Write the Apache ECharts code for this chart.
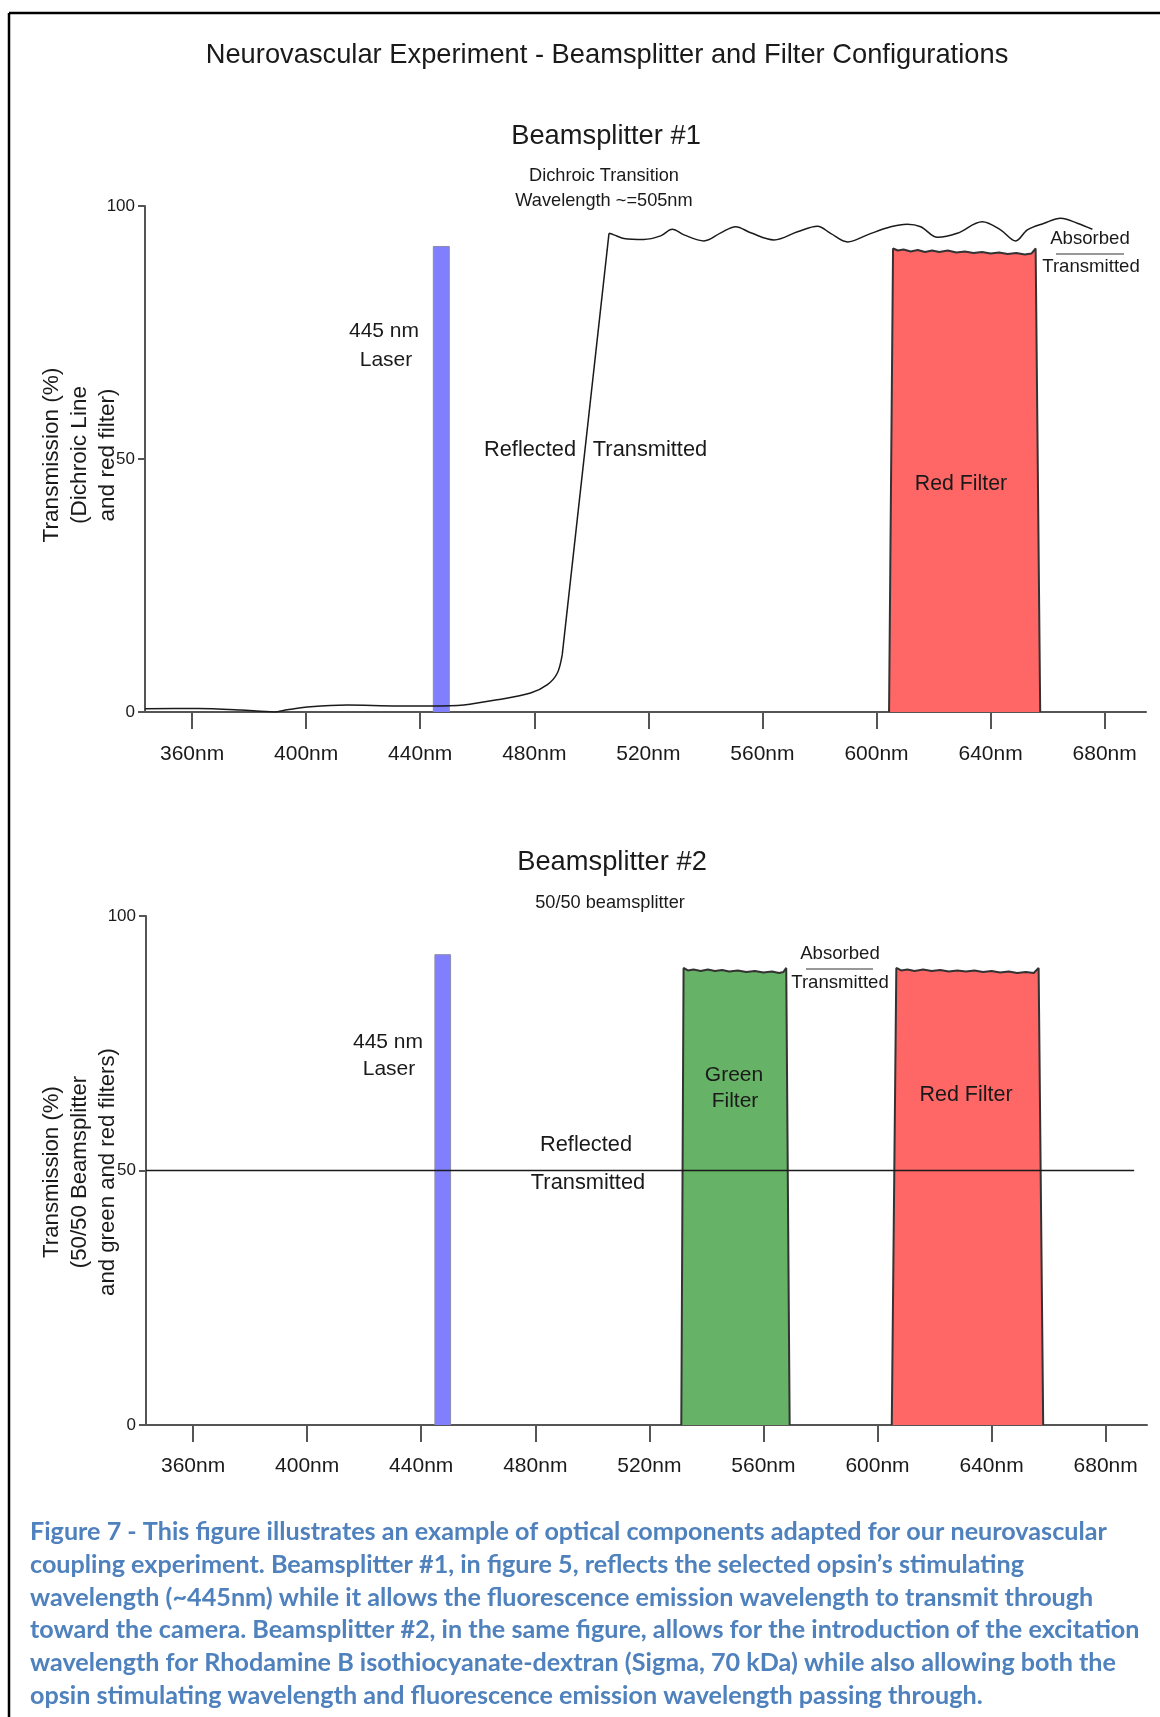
<!DOCTYPE html>
<html>
<head>
<meta charset="utf-8">
<script src="https://cdn.jsdelivr.net/npm/echarts@6/dist/echarts.min.js"></script>
<style>
  html, body { margin: 0; padding: 0; background: #ffffff; }
  #chart { width: 1160px; height: 1717px; }
</style>
</head>
<body>
<div id="chart"></div>
<script>
// ---------- DATA ----------
const xTickValues = [360, 400, 440, 480, 520, 560, 600, 640, 680];
const xTickLabels = ['360nm', '400nm', '440nm', '480nm', '520nm', '560nm', '600nm', '640nm', '680nm'];
const yTickValues = [0, 50, 100];

// Beamsplitter #1
const laser1 = [[444.6, 0], [444.6, 92.0], [450.2, 92.0], [450.2, 0]];
const dichroicLow = [[343.5, 0.65], [362, 0.7], [377, 0.4], [388.7, 0.0], [393.4, 0.45], [401.6, 1.05],
  [414.5, 1.37], [432, 1.2], [443.7, 1.2], [455.3, 1.4], [467, 2.4], [478.7, 3.75], [484.6, 5.4],
  [488.1, 7.7], [489.8, 11.3]];
const dichroicRise = [[489.8, 11.3], [506.2, 94.6]];
const dichroicTop = [[506.2, 94.6], [507.9, 94.3], [511.4, 93.6], [518.4, 93.4], [524.3, 94.1], [528.4, 95.4],
  [532.5, 94.3], [539.5, 93.1], [545.4, 94.7], [550.6, 95.9], [555.9, 94.7], [564.1, 93.3], [572.3, 94.9],
  [579.3, 96.0], [583.9, 94.6], [589.9, 92.9], [596.8, 94.3], [605, 95.9], [610.8, 96.4], [615.5, 95.9],
  [621.4, 93.8], [628.3, 94.6], [637.1, 96.9], [643.5, 95.3], [648.8, 93.1], [652.9, 95.3], [658.8, 96.6],
  [664.6, 97.6], [670.4, 96.6], [675.7, 95.4]];
const redFilter1 = [[604.4, 0], [605.8, 91.6], [607.5, 91.2], [609.5, 91.4], [612, 91.0], [614.5, 91.3],
  [617, 90.9], [619.5, 91.2], [622, 90.9], [625, 91.2], [628, 90.8], [631, 91.0], [634, 90.7], [637, 90.9],
  [640, 90.6], [643, 90.8], [646, 90.5], [649, 90.7], [652, 90.4], [654.3, 90.6], [655.8, 91.6], [657.4, 0]];

// Beamsplitter #2
const laser2 = [[444.8, 0], [444.8, 92.4], [450.3, 92.4], [450.3, 0]];
const greenFilter2 = [[531.2, 0], [532.0, 89.8], [533.5, 89.3], [535.5, 89.5], [538, 89.2], [540.5, 89.5],
  [543, 89.2], [545.5, 89.4], [548, 89.1], [551, 89.3], [554, 89.0], [557, 89.2], [560, 88.9], [563, 89.1],
  [565.5, 88.8], [567, 89.0], [568.0, 89.8], [569.2, 0]];
const redFilter2 = [[605.0, 0], [606.6, 89.8], [608.3, 89.3], [610.5, 89.5], [613, 89.2], [616, 89.5],
  [619, 89.2], [622, 89.4], [625, 89.1], [628, 89.3], [631, 89.1], [634, 89.3], [637, 89.0], [640, 89.2],
  [643, 88.9], [646, 89.1], [649, 88.8], [652, 89.0], [654.8, 88.8], [656.5, 89.8], [658.1, 0]];
const splitLine2 = [[343.5, 50], [690, 50]];

const captionLines = [
  'Figure 7 - This figure illustrates an example of optical components adapted for our neurovascular',
  'coupling experiment. Beamsplitter #1, in figure 5, reflects the selected opsin\u2019s stimulating',
  'wavelength (~445nm) while it allows the fluorescence emission wavelength to transmit through',
  'toward the camera. Beamsplitter #2, in the same figure, allows for the introduction of the excitation',
  'wavelength for Rhodamine B isothiocyanate-dextran (Sigma, 70 kDa) while also allowing both the',
  'opsin stimulating wavelength and fluorescence emission wavelength passing through.'
];

// ---------- STYLE ----------
const FF = '"Liberation Sans", Arial, sans-serif';
const CAP_FF = 'Lato, "Open Sans", sans-serif';
const AXC = '#555';
const TXT = '#1a1a1a';

const chart = echarts.init(document.getElementById('chart'), null, { renderer: 'canvas' });

function xAxisFor(gi, margin) {
  return {
    type: 'value', gridIndex: gi, min: 343.5, max: 694.5,
    axisLine: { show: true, onZero: false, lineStyle: { color: AXC, width: 2 } },
    axisTick: { show: true, customValues: xTickValues, length: 17, lineStyle: { color: AXC, width: 2 } },
    axisLabel: {
      customValues: xTickValues, margin: margin, fontSize: 21, color: TXT, fontFamily: FF,
      formatter: v => xTickLabels[xTickValues.indexOf(v)]
    },
    splitLine: { show: false }
  };
}
function yAxisFor(gi) {
  return {
    type: 'value', gridIndex: gi, min: 0, max: 100, interval: 50,
    axisLine: { show: true, lineStyle: { color: AXC, width: 2 } },
    axisTick: { show: true, customValues: yTickValues, length: 7, lineStyle: { color: AXC, width: 2 } },
    axisLabel: { customValues: yTickValues, margin: 10, fontSize: 17, color: TXT, fontFamily: FF },
    splitLine: { show: false }
  };
}
function lineS(gi, data, color, width, extra) {
  return Object.assign({
    type: 'line', xAxisIndex: gi, yAxisIndex: gi, data: data, symbol: 'none', showSymbol: false,
    silent: true, lineStyle: { color: color, width: width }
  }, extra || {});
}
function areaS(gi, data, fill, stroke, width, z) {
  return lineS(gi, data, stroke, width, { areaStyle: { color: fill, opacity: 1, origin: 'start' }, z: z });
}

function txt(x, y, text, size, opt) {
  opt = opt || {};
  return {
    type: 'text', x: x, y: y, z: 100, rotation: opt.rotation || 0,
    style: {
      text: text, fontSize: size, fontFamily: opt.family || FF, fontWeight: opt.weight || 'normal',
      fill: opt.fill || TXT, align: opt.align || 'center', verticalAlign: 'middle',
      lineHeight: opt.lineHeight || Math.round(size * 1.3)
    }
  };
}
function hline(x1, x2, y, w, color) {
  return { type: 'line', z: 100, shape: { x1: x1, y1: y, x2: x2, y2: y }, style: { stroke: color || '#333', lineWidth: w || 1.2 } };
}

// caption font fit
const ctx = document.createElement('canvas').getContext('2d');
ctx.font = 'bold 30px ' + CAP_FF;
const capW = ctx.measureText(captionLines[3]).width;
const capSize = Math.max(14, Math.min(26, 30 * 1110 / capW));

const graphics = [
  { type: 'line', z: 100, shape: { x1: 9, y1: 13, x2: 1160, y2: 13 }, style: { stroke: '#000', lineWidth: 2.5 } },
  { type: 'line', z: 100, shape: { x1: 9, y1: 13, x2: 9, y2: 1717 }, style: { stroke: '#000', lineWidth: 2.5 } },
  txt(607, 55, 'Neurovascular Experiment - Beamsplitter and Filter Configurations', 27.3),
  // chart 1
  txt(606, 136, 'Beamsplitter #1', 27.3),
  txt(604, 176, 'Dichroic Transition', 18.2),
  txt(604, 201, 'Wavelength ~=505nm', 18.2),
  txt(384, 331, '445 nm', 21),
  txt(386, 360, 'Laser', 21),
  txt(530, 450, 'Reflected', 21.8),
  txt(650, 450, 'Transmitted', 21.8),
  txt(961, 484, 'Red Filter', 21.3),
  txt(1090, 239, 'Absorbed', 18.6),
  hline(1056, 1124, 254),
  txt(1091, 267, 'Transmitted', 18.6),
  txt(80, 455, 'Transmission (%)\n(Dichroic Line\nand red filter)', 22.6, { rotation: Math.PI / 2, lineHeight: 28 }),
  // chart 2
  txt(612, 862, 'Beamsplitter #2', 27.3),
  txt(610, 903, '50/50 beamsplitter', 18.2),
  txt(388, 1042, '445 nm', 21),
  txt(389, 1069, 'Laser', 21),
  txt(586, 1145, 'Reflected', 21.8),
  txt(588, 1183, 'Transmitted', 21.8),
  txt(734, 1075, 'Green', 21),
  txt(735, 1101, 'Filter', 21),
  txt(966, 1095, 'Red Filter', 21.5),
  txt(840, 954, 'Absorbed', 18.6),
  hline(806, 873, 969),
  txt(840, 983, 'Transmitted', 18.6),
  txt(80, 1172, 'Transmission (%)\n(50/50 Beamsplitter\nand green and red filters)', 22.2, { rotation: Math.PI / 2, lineHeight: 28 })
];
const capY = [1532, 1565, 1598, 1630, 1663, 1696];
captionLines.forEach((l, i) => {
  graphics.push(txt(30, capY[i], l, capSize, { align: 'left', weight: 'bold', family: CAP_FF, fill: '#4F81BD' }));
});

chart.setOption({
  animation: false,
  backgroundColor: '#ffffff',
  grid: [
    { left: 145, top: 206, width: 1001, height: 506 },
    { left: 146, top: 916, width: 1001, height: 509 }
  ],
  xAxis: [xAxisFor(0, 32), xAxisFor(1, 31)],
  yAxis: [yAxisFor(0), yAxisFor(1)],
  series: [
    areaS(0, laser1, '#8080FF', '#8a8ab0', 1, 2),
    areaS(0, redFilter1, '#FF6666', '#333333', 2, 3),
    lineS(0, dichroicLow, '#1a1a1a', 1.5, { smooth: 0.3, z: 5 }),
    lineS(0, dichroicRise, '#1a1a1a', 1.5, { z: 5 }),
    lineS(0, dichroicTop, '#1a1a1a', 1.5, { smooth: 0.35, z: 5 }),
    areaS(1, laser2, '#8080FF', '#8a8ab0', 1, 2),
    areaS(1, greenFilter2, '#66B266', '#333333', 2, 3),
    areaS(1, redFilter2, '#FF6666', '#333333', 2, 3),
    lineS(1, splitLine2, '#1a1a1a', 1.5, { z: 5 })
  ],
  graphic: { elements: graphics }
});
</script>
</body>
</html>
